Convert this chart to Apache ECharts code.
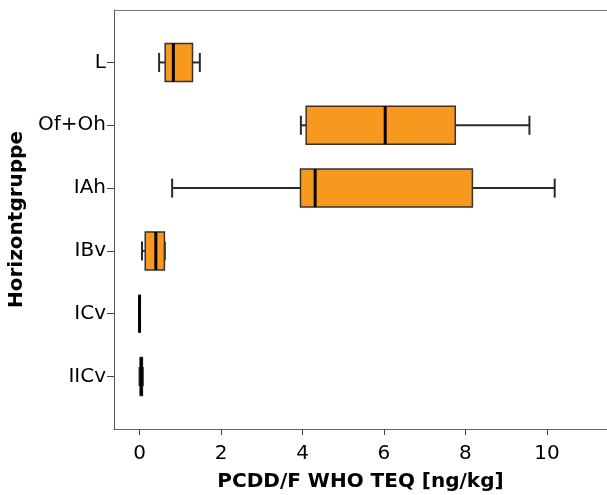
<!DOCTYPE html>
<html>
<head>
<meta charset="utf-8">
<script src="https://cdn.jsdelivr.net/npm/echarts@6/dist/echarts.min.js"></script>
<style>html,body{margin:0;padding:0;background:#fff}#c{width:607px;height:495px}</style>
</head>
<body>
<div id="c"></div>
<script>
const categories = ['L', 'Of+Oh', 'IAh', 'IBv', 'ICv', 'IICv'];
const whiskerLow  = [0.48, 3.96, 0.80, 0.06, 0.00, 0.00];
const q1          = [0.63, 4.09, 3.95, 0.14, 0.00, 0.02];
const median      = [0.83, 6.03, 4.31, 0.40, 0.00, 0.04];
const q3          = [1.30, 7.75, 8.17, 0.61, 0.00, 0.07];
const whiskerHigh = [1.48, 9.57, 10.19, 0.62, 0.00, 0.08];
const xTicks = [0, 2, 4, 6, 8, 10];

const FONT = 'DejaVu Sans';
const data = categories.map((c, i) => [i, whiskerLow[i], q1[i], median[i], q3[i], whiskerHigh[i]]);
const catIdx = categories.map((c, i) => i);

const chart = echarts.init(document.getElementById('c'), null, {renderer: 'canvas'});
chart.setOption({
  animation: false,
  backgroundColor: '#fff',
  grid: {left: 114, top: 10, right: 0, bottom: 66, containLabel: false, outerBoundsMode: 'none'},
  xAxis: [{
    type: 'value', min: -0.627, max: 11.474, position: 'bottom',
    splitLine: {show: false},
    axisLine: {show: true, onZero: false, lineStyle: {color: '#666', width: 1}},
    axisTick: {show: true, length: 6, customValues: xTicks, lineStyle: {color: '#444'}},
    axisLabel: {customValues: xTicks, margin: 15, color: '#000', fontFamily: FONT, fontSize: 20},
    name: 'PCDD/F WHO TEQ [ng/kg]', nameLocation: 'middle', nameGap: 43,
    nameTextStyle: {color: '#000', fontFamily: FONT, fontSize: 20, fontWeight: 'bold'}
  }, {
    type: 'value', min: -0.627, max: 11.474, position: 'top',
    splitLine: {show: false},
    axisLine: {show: true, onZero: false, lineStyle: {color: '#777', width: 1}},
    axisTick: {show: false}, axisLabel: {show: false}
  }],
  yAxis: {
    type: 'value', min: -0.835, max: 5.835, inverse: true,
    splitLine: {show: false},
    axisLine: {show: true, onZero: false, lineStyle: {color: '#555', width: 1}},
    axisTick: {show: true, length: 7, customValues: catIdx, lineStyle: {color: '#444'}},
    axisLabel: {customValues: catIdx, margin: 8, color: '#000', fontFamily: FONT, fontSize: 20,
      formatter: v => categories[Math.round(v)]},
    name: 'Horizontgruppe', nameLocation: 'middle', nameGap: 84, nameRotate: 90,
    nameTextStyle: {color: '#000', fontFamily: FONT, fontSize: 20, fontWeight: 'bold'}
  },
  series: [{
    type: 'custom',
    xAxisIndex: 0,
    encode: {y: 0, x: [1, 2, 3, 4, 5]},
    data: data,
    renderItem: function (params, api) {
      const idx = api.value(0);
      const pMin = api.coord([api.value(1), idx]);
      const pQ1 = api.coord([api.value(2), idx]);
      const pMed = api.coord([api.value(3), idx]);
      const pQ3 = api.coord([api.value(4), idx]);
      const pMax = api.coord([api.value(5), idx]);
      const h = api.size([0, 0.606])[1];
      const cy = pMed[1];
      const top = cy - h / 2;
      const wStyle = {stroke: '#2a2a2a', lineWidth: 2};
      const children = [
        {type: 'line', shape: {x1: pMin[0], y1: cy, x2: pQ1[0], y2: cy}, style: wStyle},
        {type: 'line', shape: {x1: pQ3[0], y1: cy, x2: pMax[0], y2: cy}, style: wStyle},
        {type: 'line', shape: {x1: pMin[0], y1: cy - h / 4, x2: pMin[0], y2: cy + h / 4}, style: wStyle},
        {type: 'line', shape: {x1: pMax[0], y1: cy - h / 4, x2: pMax[0], y2: cy + h / 4}, style: wStyle},
        {type: 'rect', shape: {x: pQ1[0], y: top, width: pQ3[0] - pQ1[0], height: h},
          style: {fill: '#F7991F', stroke: '#333', lineWidth: 1.5}},
        {type: 'line', shape: {x1: pMed[0], y1: top, x2: pMed[0], y2: top + h},
          style: {stroke: '#000', lineWidth: 3}}
      ];
      return {type: 'group', children: children};
    }
  }]
});
</script>
</body>
</html>
